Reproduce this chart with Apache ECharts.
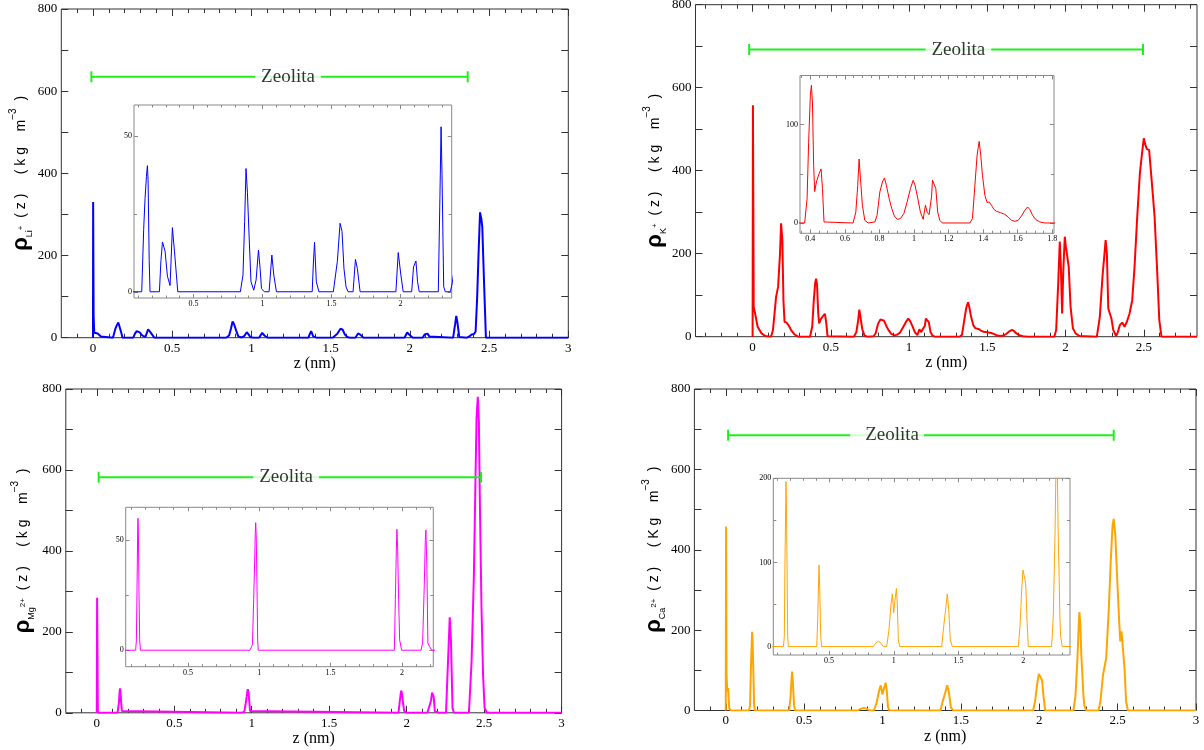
<!DOCTYPE html>
<html>
<head>
<meta charset="utf-8">
<title>Perfiles de densidad de cationes</title>
<script src="https://cdn.jsdelivr.net/npm/echarts@6/dist/echarts.min.js"></script>
<style>
  html, body { margin: 0; padding: 0; background: #fff; }
  #chart { width: 1204px; height: 750px; }
</style>
</head>
<body>
<div id="chart"></div>
<script>
// Density profiles rho(z) of the cations along z (nm), in kg m^-3.
const liProfile = [
  [0,0],[0.001,330],[0.004,55],[0.008,12],[0.03,10],[0.05,3],[0.06,0],
  [0.126,0],[0.14,20],[0.15,30],[0.16,37],[0.167,40.5],[0.172,36],[0.18,10],[0.186,0],
  [0.254,0],[0.265,10],[0.276,16],[0.295,13],[0.312,5],[0.331,2],[0.348,20.6],[0.363,13],[0.387,0],
  [0.84,0],[0.859,5.4],[0.871,22.6],[0.881,39.6],[0.891,32],[0.905,16],[0.917,3.2],[0.937,0.5],
  [0.954,3.8],[0.971,13.4],[0.983,7.5],[0.993,1],[1.014,0],
  [1.048,0],[1.068,11.8],[1.082,5.4],[1.101,0],
  [1.36,0],[1.368,8.6],[1.377,15.9],[1.39,3.2],[1.409,0],
  [1.513,0],[1.542,9.7],[1.562,22],[1.576,19.4],[1.59,7.5],[1.605,1.6],[1.62,0],
  [1.656,0],[1.673,10.4],[1.687,7.5],[1.707,0],
  [1.966,0],[1.983,12.6],[2.002,5.4],[2.019,0],
  [2.08,0],[2.094,8],[2.111,9.9],[2.123,3.2],[2.135,0],
  [2.273,0],[2.285,31],[2.293,53],[2.3,37.6],[2.312,1.6],[2.324,0],
  [2.36,0],[2.375,3],[2.39,8],[2.405,9],[2.415,15],[2.425,100],[2.433,198],[2.443,305],
  [2.452,287],[2.457,270],[2.469,125],[2.48,0],[3,0]
];

const kProfile = [
  [0,0],[0.002,558],[0.007,72],[0.02,48],[0.032,24],[0.057,8],[0.081,1.6],[0.118,0],
  [0.13,16],[0.15,96],[0.163,120],[0.175,200],[0.182,273],[0.19,233],[0.197,88],[0.204,36],
  [0.217,34],[0.229,28],[0.246,16],[0.266,6],[0.29,0],
  [0.367,0],[0.381,24.7],[0.39,82],[0.4,130],[0.406,140],[0.412,123],[0.419,58.6],[0.425,32],
  [0.435,41.7],[0.45,50],[0.462,55],[0.47,35],[0.479,1],[0.489,0],
  [0.647,0],[0.663,11],[0.674,38],[0.682,65],[0.69,45],[0.701,18],[0.715,2.7],[0.734,0],
  [0.773,1],[0.786,7.8],[0.802,31.5],[0.817,41.7],[0.829,45.8],[0.84,38.3],[0.856,24.7],
  [0.871,14.6],[0.886,7],[0.904,3.7],[0.921,4.4],[0.941,9.5],[0.96,21.4],[0.979,35],
  [0.995,43.4],[1.006,38.3],[1.022,24.7],[1.037,11],[1.053,3.7],[1.066,18],[1.076,11],
  [1.087,8.5],[1.101,26.4],[1.107,43.4],[1.116,41.7],[1.126,35],[1.137,11.2],[1.149,2.7],[1.164,0],
  [1.323,0],[1.338,4.4],[1.352,38],[1.365,69],[1.377,83],[1.386,69],[1.396,48.5],[1.41,28],
  [1.423,20.7],[1.435,21.4],[1.448,18],[1.462,13.9],[1.477,11.9],[1.5,10.5],[1.525,8.8],
  [1.545,6.1],[1.564,2.7],[1.583,1.7],[1.603,2.7],[1.622,7.1],[1.641,12.9],[1.657,16.3],
  [1.67,13.9],[1.686,7.8],[1.705,3.4],[1.728,1],[1.757,0],
  [1.928,0],[1.94,16],[1.953,128],[1.963,229],[1.97,169],[1.978,56],[1.985,153],[1.995,241],
  [2.002,217],[2.01,213],[2.02,169],[2.032,72],[2.047,20],[2.064,8],[2.089,1.6],[2.1,0],
  [2.2,0],[2.219,48],[2.236,145],[2.249,201],[2.256,233],[2.264,201],[2.273,68],[2.293,44],
  [2.305,16],[2.323,1.6],[2.335,12],[2.347,28],[2.362,34],[2.377,24],[2.392,36],[2.409,56],
  [2.426,88],[2.441,169],[2.458,289],[2.475,394],[2.49,446],[2.5,478],[2.51,462],[2.52,452],
  [2.534,450],[2.552,369],[2.569,289],[2.586,153],[2.599,40],[2.613,0],[2.84,0]
];

const mgProfile = [
  [0,0],[0.002,284],[0.004,180],[0.007,0],
  [0.134,0],[0.139,4.7],[0.143,26],[0.148,54.7],[0.15,60],[0.153,54],[0.157,27],[0.162,4.7],[0.167,0],
  [0.935,0],[0.952,2.4],[0.961,23],[0.968,41],[0.972,53],[0.975,58],[0.979,52],[0.984,30],[0.989,4.7],[0.993,0],
  [1.947,0],[1.954,23],[1.961,45.6],[1.965,55],[1.97,47],[1.977,23],[1.984,4.7],[1.998,0],
  [2.134,0],[2.145,3.2],[2.157,30],[2.164,50],[2.168,54.7],[2.175,38],[2.182,3.2],[2.194,1.7],[2.208,0],
  [2.254,0],[2.266,119],[2.278,236],[2.286,177],[2.296,12],[2.305,0],
  [2.402,0],[2.419,127],[2.434,341],[2.444,572],[2.451,728],[2.459,781],[2.466,720],[2.473,506],
  [2.483,259],[2.493,95],[2.503,12],[2.518,0],[3,0]
];

const caProfile = [
  [0,0],[0.002,458],[0.005,89],[0.01,47],[0.015,56],[0.022,6],[0.032,0],
  [0.148,0],[0.155,12],[0.16,99],[0.166,170],[0.168,196],[0.171,174],[0.176,99],[0.181,12],[0.186,0],
  [0.405,0],[0.413,32],[0.418,67],[0.423,97],[0.428,71],[0.436,12],[0.443,0],
  [0.842,0],[0.86,4],[0.881,6.3],[0.901,4],[0.919,0],[0.945,0],[0.963,20],[0.979,51],[0.989,62.6],
  [0.999,40],[1.009,55],[1.02,69],[1.027,51],[1.035,8],[1.045,0],
  [1.37,0],[1.385,24],[1.4,44],[1.413,62.6],[1.424,44],[1.436,8],[1.452,0],
  [1.961,0],[1.974,24],[1.987,67],[1.997,91],[2.008,83],[2.018,75],[2.028,32],[2.038,0],
  [2.218,0],[2.231,36],[2.244,131],[2.252,215],[2.256,245],[2.262,215],[2.268,140],[2.275,91],
  [2.282,35],[2.288,12],[2.3,0],
  [2.378,0],[2.39,22],[2.407,89],[2.427,130],[2.444,255],[2.456,371],[2.468,462],[2.475,477],
  [2.485,437],[2.498,321],[2.51,221],[2.517,172],[2.525,197],[2.534,201],[2.544,105],[2.554,22],
  [2.566,0],[3,0]
];

// Zeolite slab markers: start, end (nm), level (kg m^-3) and label position (nm)
const zeoStart = [-0.01, -0.022, 0.012, 0.015];
const zeoEnd   = [2.365, 2.495, 2.48, 2.475];
const zeoLevel = [635, 692, 582, 685];
const zeoTextZ = [1.231, 1.315, 1.222, 1.029];

// Tick labels
const mainZTicks = [0, 0.5, 1, 1.5, 2, 2.5, 3];
const kZTicks = [0, 0.5, 1, 1.5, 2, 2.5];
const mainRhoTicks = [0, 200, 400, 600, 800];
const mainRhoMinor = [100, 300, 500, 700];
const insetLiZ = [0.5, 1, 1.5, 2];
const insetLiRho = [0, 50];
const insetLiRhoMinor = [25];
const insetKZ = [0.4, 0.6, 0.8, 1, 1.2, 1.4, 1.6, 1.8];
const insetKRho = [0, 100];
const insetKRhoMinor = [50, 150];
const insetMgZ = [0.5, 1, 1.5, 2];
const insetMgRho = [0, 50];
const insetMgRhoMinor = [25];
const insetCaZ = [0.5, 1, 1.5, 2];
const insetCaRho = [0, 100, 200];
const insetCaRhoMinor = [50, 150];

const ionColors = ['#0000ff', '#ff0000', '#ff00ff', '#ffa500'];
const zeoColor = '#1ef01e';
const SERIF = 'Liberation Serif';
const SANS = 'Liberation Sans';

// Evenly spaced minor tick positions
function ticksFrom(start, end, step) {
  const out = [];
  for (let k = 0; start + k * step <= end + 1e-9; k++) out.push(+(start + k * step).toFixed(4));
  return out;
}

function yTitle(ion, charge, unitK) {
  return '{r|ρ}{s|' + ion + '}{p|' + charge + '}{t|  ( z )     ( ' + unitK + ' g    m}{e|−3}{t|  )}';
}

const yTitleRich = {
  r: { fontFamily: SANS, fontSize: 22, fontWeight: 'bold', lineHeight: 26, color: '#000' },
  s: { fontFamily: SANS, fontSize: 9, verticalAlign: 'bottom', lineHeight: 11, color: '#000' },
  p: { fontFamily: SANS, fontSize: 8, verticalAlign: 'middle', lineHeight: 10, color: '#000' },
  t: { fontFamily: SANS, fontSize: 14, lineHeight: 26, color: '#000' },
  e: { fontFamily: SANS, fontSize: 10, verticalAlign: 'top', lineHeight: 11, color: '#000' }
};

const panels = [
  { data: liProfile, color: ionColors[0],
    main: [61.3, 9, 568.3, 337.7], mainZ: [-0.2, 3], mainMinor: [-0.1, 2.9], zLabels: mainZTicks,
    yName: yTitle('Li', '+', 'k'), yGap: 27,
    inset: [134, 105, 451.7, 298], insetZ: [0.07, 2.37], insetRho: [-2, 60],
    insetMinor: [0.1, 2.3, 0.1], insetZLabels: insetLiZ, insetRhoLabels: insetLiRho, insetRhoMinor: insetLiRhoMinor,
    zeoPad: [0, 6, 0, 6] },
  { data: kProfile, color: ionColors[1],
    main: [695.5, 4.7, 1197, 336.7], mainZ: [-0.365, 2.84], mainMinor: [-0.3, 2.8], zLabels: kZTicks,
    yName: yTitle('K', '+', 'k'), yGap: 25,
    inset: [800, 75.5, 1054, 233.3], insetZ: [0.34, 1.81], insetRho: [-10.5, 150],
    insetMinor: [0.35, 1.8, 0.05], insetZLabels: insetKZ, insetRhoLabels: insetKRho, insetRhoMinor: insetKRhoMinor,
    zeoPad: [0, 6, 0, 6] },
  { data: mgProfile, color: ionColors[2],
    main: [65.8, 389, 561.6, 712.8], mainZ: [-0.2, 3], mainMinor: [-0.1, 2.9], zLabels: mainZTicks,
    yName: yTitle('Mg', '2+', 'k'), yGap: 30,
    inset: [125.7, 507.3, 433.3, 666.7], insetZ: [0.064, 2.22], insetRho: [-7.5, 65],
    insetMinor: [0.1, 2.2, 0.1], insetZLabels: insetMgZ, insetRhoLabels: insetMgRho, insetRhoMinor: insetMgRhoMinor,
    zeoPad: [0, 6, 0, 6] },
  { data: caProfile, color: ionColors[3],
    main: [694.4, 389, 1196, 710.5], mainZ: [-0.2, 3], mainMinor: [-0.1, 2.9], zLabels: mainZTicks,
    yName: yTitle('Ca', '2+', 'K'), yGap: 24,
    inset: [773.3, 478.3, 1070, 655], insetZ: [0.07, 2.36], insetRho: [-10, 200],
    insetMinor: [0.1, 2.3, 0.1], insetZLabels: insetCaZ, insetRhoLabels: insetCaRho, insetRhoMinor: insetCaRhoMinor,
    zeoPad: [0, 5, 0, 15] }
];

const grids = [], xAxes = [], yAxes = [], series = [];

function axis(g, range, pos, ticks, len, color, labels, labelStyle, extra) {
  return Object.assign({
    type: 'value', gridIndex: g, min: range[0], max: range[1], position: pos,
    axisLine: { show: false, onZero: false },
    splitLine: { show: false },
    axisTick: { show: true, inside: true, length: len, customValues: ticks, lineStyle: { color: color, width: 1 } },
    axisLabel: labels ? Object.assign({ show: true, customValues: labels }, labelStyle) : { show: false },
    axisPointer: { show: false },
    silent: true
  }, extra || {});
}

// One framed plot area with ticks on all four sides; returns axis indices for the data
function addFrame(box, zRange, rhoRange, t) {
  const g = grids.length;
  grids.push({
    left: box[0], top: box[1], width: box[2] - box[0], height: box[3] - box[1],
    show: true, borderColor: t.border, borderWidth: 1, backgroundColor: '#fff',
    containLabel: false, outerBoundsMode: 'none'
  });
  const lab = { fontFamily: SERIF, fontSize: t.font, color: '#000', margin: t.margin };
  const xi = xAxes.length, yi = yAxes.length;
  xAxes.push(axis(g, zRange, 'bottom', t.zMajor, t.majorLen, t.border, t.zLabels, lab, t.xExtra));
  xAxes.push(axis(g, zRange, 'bottom', t.zMinor, t.minorLen, t.border));
  xAxes.push(axis(g, zRange, 'top', t.zMajor, t.majorLen, t.border));
  xAxes.push(axis(g, zRange, 'top', t.zMinor, t.minorLen, t.border));
  yAxes.push(axis(g, rhoRange, 'left', t.rhoMajor, t.yLen, t.border, t.rhoLabels, lab, t.yExtra));
  yAxes.push(axis(g, rhoRange, 'left', t.rhoMinor, t.yMinorLen, t.border));
  yAxes.push(axis(g, rhoRange, 'right', t.rhoMajor, t.yLen, t.border));
  yAxes.push(axis(g, rhoRange, 'right', t.rhoMinor, t.yMinorLen, t.border));
  return [xi, yi];
}

panels.forEach((p, i) => {
  const [mx, my] = addFrame(p.main, p.mainZ, [0, 800], {
    border: '#333', font: 13, margin: 4, majorLen: 7, minorLen: 4, yLen: 7, yMinorLen: 7,
    zMajor: p.zLabels, zMinor: ticksFrom(p.mainMinor[0], p.mainMinor[1], 0.1), zLabels: p.zLabels,
    rhoMajor: mainRhoTicks, rhoMinor: mainRhoMinor, rhoLabels: mainRhoTicks,
    xExtra: { name: 'z (nm)', nameLocation: 'middle', nameGap: 17,
              nameTextStyle: { fontFamily: SERIF, fontSize: 16, color: '#000' } },
    yExtra: { name: p.yName, nameLocation: 'middle', nameRotate: 90, nameGap: p.yGap,
              nameTextStyle: { rich: yTitleRich } }
  });
  series.push({
    type: 'line', xAxisIndex: mx, yAxisIndex: my, data: p.data,
    symbol: 'none', showSymbol: false, clip: true, z: 3,
    lineStyle: { color: p.color, width: 2 }
  });
  series.push({
    type: 'line', xAxisIndex: mx, yAxisIndex: my,
    data: [[zeoStart[i], zeoLevel[i]], [zeoEnd[i], zeoLevel[i]]],
    symbol: 'rect', symbolSize: [2, 11], showSymbol: true, z: 4,
    itemStyle: { color: zeoColor }, lineStyle: { color: zeoColor, width: 2 }
  });
  series.push({
    type: 'scatter', xAxisIndex: mx, yAxisIndex: my,
    data: [[zeoTextZ[i], zeoLevel[i]]], symbolSize: 1, z: 5, silent: true,
    itemStyle: { color: 'rgba(0,0,0,0)' },
    label: { show: true, position: 'inside', formatter: 'Zeolita', fontFamily: SERIF, fontSize: 19,
             color: '#000', backgroundColor: '#fff', padding: p.zeoPad }
  });

  const [ix, iy] = addFrame(p.inset, p.insetZ, p.insetRho, {
    border: '#888', font: 8, margin: 2, majorLen: 4, minorLen: 2.5, yLen: 4, yMinorLen: 3,
    zMajor: p.insetZLabels, zMinor: ticksFrom(p.insetMinor[0], p.insetMinor[1], p.insetMinor[2]),
    zLabels: p.insetZLabels,
    rhoMajor: p.insetRhoLabels, rhoMinor: p.insetRhoMinor, rhoLabels: p.insetRhoLabels
  });
  series.push({
    type: 'line', xAxisIndex: ix, yAxisIndex: iy, data: p.data,
    symbol: 'none', showSymbol: false, clip: true, z: 6,
    lineStyle: { color: p.color, width: 1 }
  });
});

const chart = echarts.init(document.getElementById('chart'), null, { renderer: 'canvas' });
chart.setOption({
  backgroundColor: '#fff',
  animation: false,
  grid: grids,
  xAxis: xAxes,
  yAxis: yAxes,
  series: series
});
</script>
</body>
</html>
